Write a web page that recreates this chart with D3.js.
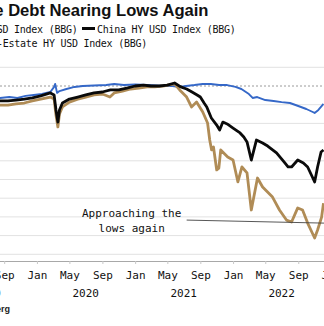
<!DOCTYPE html>
<html>
<head>
<meta charset="utf-8">
<script src="https://cdn.jsdelivr.net/npm/d3@7"></script>
<style>
  html, body { margin: 0; padding: 0; background: #fff; overflow: hidden; }
  svg { display: block; }
</style>
</head>
<body>
<div id="chart"></div>
<script>
var width = 324,
  height = 326;

// blue: China USD Index
var usdDates = ["2019-08-15", "2019-09-20", "2019-10-20", "2019-11-20", "2019-12-20", "2020-01-20", "2020-02-20", "2020-03-05", "2020-03-09", "2020-03-16", "2020-03-25", "2020-04-20", "2020-05-20", "2020-06-20", "2020-08-01", "2020-09-15", "2020-10-15", "2020-11-20", "2021-01-01", "2021-02-15", "2021-03-20", "2021-04-20", "2021-05-20", "2021-06-15", "2021-07-10", "2021-08-10", "2021-09-10", "2021-10-10", "2021-11-10", "2021-12-10", "2022-01-10", "2022-02-01", "2022-03-01", "2022-03-15", "2022-04-01", "2022-05-01", "2022-06-01", "2022-07-01", "2022-08-01", "2022-09-01", "2022-10-01", "2022-10-25", "2022-11-01", "2022-11-15", "2022-12-04"];
var usdValues = [93.6, 94.1, 93.6, 94.7, 95.2, 95.7, 96.8, 99.5, 101.1, 96.3, 97.3, 98.4, 99.5, 100, 100.3, 100.5, 101.1, 100.5, 100.8, 100.5, 100.3, 100, 100, 99.5, 100, 100.5, 101.1, 101.1, 100.5, 100.5, 99.5, 98.4, 95.7, 93.6, 94.1, 92.5, 92.0, 91.4, 90.9, 89.3, 87.7, 86.1, 85.6, 87.2, 90.4];

// black: China HY USD Index
var hyDates = ["2019-08-15", "2019-09-15", "2019-10-15", "2019-11-15", "2019-12-15", "2020-01-15", "2020-02-20", "2020-03-05", "2020-03-12", "2020-03-19", "2020-03-25", "2020-04-05", "2020-05-01", "2020-06-01", "2020-07-01", "2020-08-01", "2020-09-01", "2020-10-01", "2020-11-01", "2020-12-01", "2021-01-01", "2021-02-01", "2021-03-01", "2021-04-01", "2021-05-01", "2021-05-28", "2021-06-20", "2021-07-12", "2021-08-01", "2021-08-20", "2021-09-01", "2021-09-15", "2021-09-25", "2021-10-12", "2021-11-01", "2021-11-12", "2021-11-24", "2021-12-10", "2022-01-01", "2022-01-27", "2022-02-10", "2022-02-22", "2022-03-10", "2022-03-29", "2022-04-21", "2022-05-10", "2022-06-12", "2022-07-10", "2022-07-25", "2022-08-07", "2022-08-30", "2022-09-20", "2022-10-06", "2022-10-20", "2022-11-01", "2022-11-12", "2022-11-25", "2022-12-04"];
var hyValues = [92.0, 92.0, 92.5, 93.0, 93.6, 94.7, 96.3, 95.2, 87.2, 80.7, 87.2, 90.9, 93.0, 94.1, 95.2, 96.3, 96.8, 97.9, 97.9, 98.9, 100, 100.5, 100, 100, 100.5, 101.6, 99.5, 98.4, 96.8, 95.2, 94.1, 90.9, 88.8, 82.9, 79.1, 76.5, 80.7, 79.7, 77.5, 74.9, 72.7, 70.1, 60.4, 71.1, 69.5, 67.9, 64.2, 59.4, 56.7, 56.7, 60.4, 58.8, 56.7, 52.4, 48.7, 56.7, 64.7, 65.8];

// brown: China Real-Estate HY USD Index
var reDates = ["2019-08-15", "2019-09-15", "2019-10-15", "2019-11-15", "2019-12-15", "2020-01-15", "2020-02-20", "2020-03-05", "2020-03-12", "2020-03-19", "2020-03-25", "2020-04-05", "2020-05-01", "2020-06-01", "2020-07-01", "2020-08-01", "2020-09-01", "2020-09-29", "2020-10-15", "2020-11-15", "2020-12-15", "2021-01-15", "2021-02-15", "2021-03-15", "2021-04-15", "2021-05-28", "2021-06-16", "2021-07-12", "2021-07-30", "2021-08-18", "2021-09-10", "2021-09-28", "2021-10-06", "2021-10-13", "2021-10-20", "2021-11-01", "2021-11-09", "2021-11-16", "2021-12-12", "2022-01-01", "2022-01-19", "2022-02-03", "2022-02-22", "2022-03-10", "2022-04-02", "2022-04-21", "2022-05-28", "2022-06-23", "2022-07-19", "2022-08-07", "2022-08-30", "2022-09-17", "2022-10-06", "2022-11-01", "2022-11-12", "2022-11-27", "2022-12-04"];
var reValues = [89.8, 89.8, 90.4, 90.9, 92.0, 93.0, 94.1, 93.0, 84.5, 78.1, 85.0, 88.8, 91.4, 93.0, 94.1, 95.2, 95.7, 94.1, 96.3, 97.3, 98.4, 98.9, 99.5, 99.5, 100, 101.1, 97.9, 94.1, 88.8, 91.4, 86.1, 80.2, 71.1, 65.8, 67.4, 55.1, 56.1, 65.8, 62.0, 60.4, 48.7, 56.7, 53.5, 33.7, 50.8, 46.0, 40.6, 33.7, 28.3, 27.3, 34.8, 33.7, 26.7, 18.7, 23.0, 29.9, 37.4];

var gridValues = [10, 20, 30, 40, 50, 60, 70, 80, 90, 100, 110];
var monthTicks = ["2019-09-01", "2020-01-01", "2020-05-01", "2020-09-01", "2021-01-01", "2021-05-01", "2021-09-01", "2022-01-01", "2022-05-01", "2022-09-01", "2023-01-01"];
var yearTicks = [["2019-07-01", "2019"], ["2020-07-01", "2020"], ["2021-07-01", "2021"], ["2022-07-01", "2022"]];
var noteLine = [["2021-07-12", 28.3], ["2023-01-01", 26.6]];

var parse = d3.timeParse("%Y-%m-%d");
var mono = "'DejaVu Sans Mono', monospace";

var x = d3.scaleTime()
  .domain([parse("2019-01-01"), parse("2023-01-01")])
  .range([-61, 331]);
var y = d3.scaleLinear()
  .domain([0, 110])
  .range([273, 67.3]);

var svg = d3.select("#chart")
  .append("svg")
  .attr("width", width)
  .attr("height", height);

// grid
svg.selectAll("line.grid")
  .data(gridValues)
  .enter()
  .append("line")
  .attr("class", "grid")
  .attr("x1", 0)
  .attr("x2", width)
  .attr("y1", function (d) { return y(d); })
  .attr("y2", function (d) { return y(d); })
  .attr("stroke", function (d) { return d === 100 ? "#9a9a9a" : "#e2e2e2"; })
  .attr("stroke-width", 1)
  .attr("stroke-dasharray", function (d) { return d === 100 ? "2,2" : null; });

// x axis
var axisY = 261;
var xAxis = d3.axisBottom(x)
  .tickValues(monthTicks.map(parse))
  .tickSize(3)
  .tickFormat(d3.timeFormat("%b"));
var gx = svg.append("g")
  .attr("transform", "translate(0," + axisY + ")")
  .call(xAxis);
gx.select(".domain").attr("stroke", "#a8a8a8").attr("d", "M0,0.5H" + width);
gx.selectAll(".tick line").attr("stroke", "#c8c8c8");
gx.selectAll(".tick text")
  .attr("y", 10)
  .attr("dy", "0.71em")
  .style("font-family", mono)
  .style("font-size", "11px")
  .attr("fill", "#111");

svg.selectAll("text.year")
  .data(yearTicks)
  .enter()
  .append("text")
  .attr("class", "year")
  .attr("x", function (d) { return x(parse(d[0])); })
  .attr("y", 296.5)
  .attr("text-anchor", "middle")
  .style("font-family", mono)
  .style("font-size", "11px")
  .attr("fill", "#111")
  .text(function (d) { return d[1]; });

// lines
var line = d3.line()
  .x(function (d) { return x(d[0]); })
  .y(function (d) { return y(d[1]); });

function series(dates, values) {
  return dates.map(function (d, i) { return [parse(d), values[i]]; });
}

var lines = [
  { data: series(usdDates, usdValues), color: "#3568c8", w: 1.9 },
  { data: series(reDates, reValues), color: "#b08c56", w: 2.8 },
  { data: series(hyDates, hyValues), color: "#0a0a0a", w: 2.8 }
];

svg.selectAll("path.series")
  .data(lines)
  .enter()
  .append("path")
  .attr("class", "series")
  .attr("d", function (d) { return line(d.data); })
  .attr("fill", "none")
  .attr("stroke", function (d) { return d.color; })
  .attr("stroke-width", function (d) { return d.w; })
  .attr("stroke-linejoin", "round");

// annotation
var note = noteLine.map(function (d) { return [parse(d[0]), d[1]]; });
svg.append("path")
  .attr("d", line(note))
  .attr("stroke", "#444")
  .attr("stroke-width", 0.9)
  .attr("fill", "none");

var nx = x(note[0][0]) - 55;
svg.selectAll("text.note")
  .data(["Approaching the", "lows again"])
  .enter()
  .append("text")
  .attr("class", "note")
  .attr("x", nx)
  .attr("y", function (d, i) { return 216.5 + i * 15; })
  .attr("text-anchor", "middle")
  .style("font-family", mono)
  .style("font-size", "11px")
  .attr("fill", "#111")
  .text(function (d) { return d; });

// title
svg.append("text")
  .attr("x", 208.5)
  .attr("y", 16)
  .attr("text-anchor", "end")
  .style("font-family", "'Liberation Sans', Arial, sans-serif")
  .style("font-weight", "bold")
  .style("font-size", "16.6px")
  .attr("fill", "#111")
  .text("China Real Estate Debt Nearing Lows Again");

// legend
var legendFont = function (sel) {
  sel.style("font-family", mono)
    .style("font-size", "10px")
    .style("letter-spacing", "-0.25px")
    .attr("fill", "#111");
};

svg.append("text")
  .attr("x", 77.5)
  .attr("y", 32.5)
  .attr("text-anchor", "end")
  .call(legendFont)
  .text("China USD Index (BBG)");

svg.append("line")
  .attr("x1", 82).attr("x2", 95)
  .attr("y1", 28.5).attr("y2", 28.5)
  .attr("stroke", "#0a0a0a")
  .attr("stroke-width", 3);

svg.append("text")
  .attr("x", 97)
  .attr("y", 32.5)
  .call(legendFont)
  .text("China HY USD Index (BBG)");

svg.append("text")
  .attr("x", 147)
  .attr("y", 46.5)
  .attr("text-anchor", "end")
  .call(legendFont)
  .text("China Real-Estate HY USD Index (BBG)");

// source
svg.append("text")
  .attr("x", 10)
  .attr("y", 311.5)
  .attr("text-anchor", "end")
  .style("font-family", "'Liberation Sans', Arial, sans-serif")
  .style("font-weight", "bold")
  .style("font-size", "9px")
  .attr("fill", "#222")
  .text("Source: Bloomberg");
</script>
</body>
</html>
